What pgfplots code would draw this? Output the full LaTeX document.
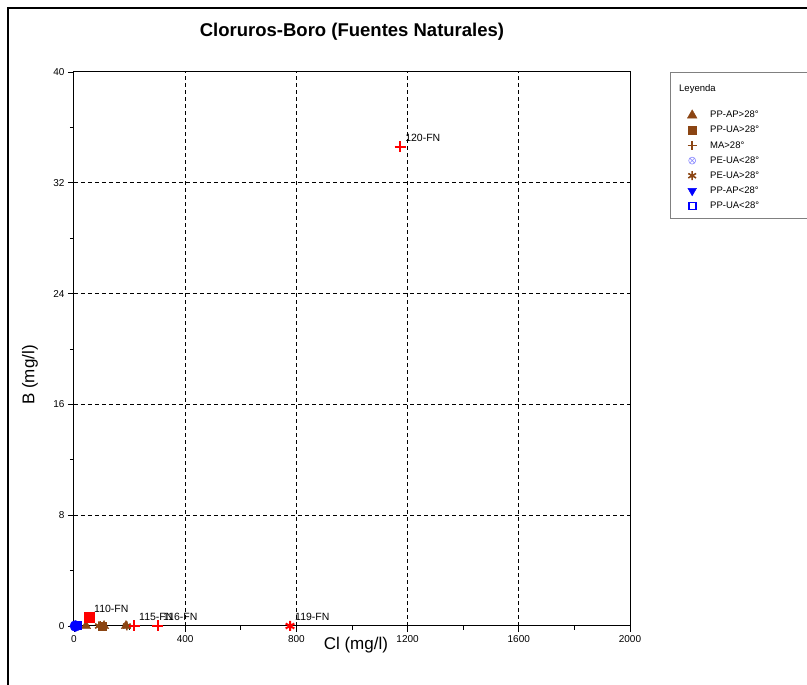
\documentclass[border=0pt]{standalone}
\usepackage{fontspec}
\setmainfont{Liberation Sans}
\usepackage{pgfplots}
\pgfplotsset{compat=1.18}
\definecolor{brn}{RGB}{139,69,19}
\definecolor{lpur}{RGB}{140,140,255}
\begin{document}
\begin{tikzpicture}
\useasboundingbox (-74pt,-59pt) rectangle (733pt,626pt);
\draw[line width=1.5pt] (-66pt,-70pt) -- (-66pt,618pt) -- (745pt,618pt);
\draw[gray, line width=1pt] (745pt,553pt) -- (596pt,553pt) -- (596pt,407pt) -- (745pt,407pt);
\node[anchor=west, inner sep=0pt, font=\fontsize{9.5}{11}\selectfont] at (605pt,537pt) {Leyenda};
\begin{axis}[
  width=556pt, height=554pt, scale only axis,
  xmin=0, xmax=2000, ymin=0, ymax=40,
  xtick={0,400,...,2000}, ytick={0,8,...,40},
  minor x tick num=1, minor y tick num=1,
  tick align=outside, tick pos=left,
  major tick length=6pt, minor tick length=4pt,
  tick style={black, line width=0.8pt},
  grid=none,
  extra x ticks={400,800,1200,1600}, extra y ticks={8,16,24,32},
  extra x tick labels={,,,}, extra y tick labels={,,,},
  extra tick style={grid=major, major tick length=0pt},
  major grid style={black, line width=0.8pt, dash pattern=on 4pt off 3pt},
  axis line style={black, line width=1pt},
  /pgf/number format/assume math mode=true,
  /pgf/number format/1000 sep={},
  tick label style={font=\fontsize{10}{12}\selectfont},
  xlabel={Cl (mg/l)}, ylabel={B (mg/l)},
  label style={font=\fontsize{17}{20}\selectfont},
  xlabel style={at={(axis description cs:0.507,-0.034)}, anchor=center},
  ylabel style={at={(axis description cs:-0.079,0.453)}, anchor=center},
  title={Cloruros-Boro (Fuentes Naturales)},
  title style={at={(axis description cs:0.5,1.0614)}, anchor=center, yshift=0pt, font=\fontsize{18.5}{21}\selectfont\bfseries},
  clip=false,
  legend cell align=left,
  legend image code/.code={\path[draw=none,fill=none] (0pt,-5pt) rectangle (26pt,5pt); \draw[mark repeat=2,mark phase=2,#1] plot coordinates {(0pt,0pt) (9pt,0pt) (18pt,0pt)};},
  legend style={at={(axis description cs:1.0953,0.933)}, anchor=north west, draw=none, fill=none,
    font=\fontsize{9.5}{11}\selectfont, row sep=3.1pt, inner sep=0pt,
    nodes={inner sep=1pt, text height=7.5pt, text depth=2.5pt}},
]
% PP-AP>28
\addplot[only marks, mark=triangle*, mark size=5.5pt, color=brn] coordinates {(43,0) (108,0) (187,0)};
\addlegendentry{PP-AP>28°}
% PP-UA>28
\addplot[only marks, mark=square*, mark size=4pt, color=brn] coordinates {(100,0)};
\addlegendentry{PP-UA>28°}
% MA>28
\addplot[only marks, mark=+, mark size=4.5pt, color=brn, line width=1.6pt] coordinates {(95,0)};
\addlegendentry{MA>28°}
% PE-UA<28
\addplot[only marks, mark=otimes, mark size=3.5pt, color=lpur, line width=0.6pt] coordinates {(3,0)};
\addlegendentry{PE-UA<28°}
% PE-UA>28
\addplot[only marks, mark=asterisk, mark size=4.5pt, color=brn, line width=1.6pt] coordinates {(90,0) (190,0)};
\addlegendentry{PE-UA>28°}
% PP-AP<28
\addplot[only marks, mark=triangle*, mark options={rotate=180}, mark size=5pt, color=blue] coordinates {(6,0)};
\addlegendentry{PP-AP<28°}
% PP-UA<28
\addplot[only marks, mark=square, mark size=3.5pt, color=blue, line width=1.8pt] coordinates {(12,0.05)};
\addlegendentry{PP-UA<28°}
% highlighted points
\addplot[only marks, mark=*, mark size=5.5pt, color=blue, forget plot] coordinates {(5,0)};
\addplot[only marks, mark=square*, mark size=5pt, color=red, forget plot] coordinates {(54,0.6)};
\addplot[only marks, mark=+, mark size=5.5pt, color=red, line width=2pt, forget plot] coordinates {(216,0) (302,0) (1173,34.6)};
\addplot[only marks, mark=asterisk, mark size=5pt, color=red, line width=2pt, forget plot] coordinates {(777,0)};
% labels
\addplot[draw=none, mark=none, forget plot, nodes near coords, point meta=explicit symbolic,
  nodes near coords style={anchor=west, xshift=4pt, yshift=9pt, inner sep=1pt, font=\fontsize{10.5}{12}\selectfont}]
  table[meta=lab] {
x y lab
54 0.6 110-FN
216 0 115-FN
302 0 116-FN
777 0 119-FN
1173 34.6 120-FN
};
\end{axis}
\end{tikzpicture}
\end{document}
